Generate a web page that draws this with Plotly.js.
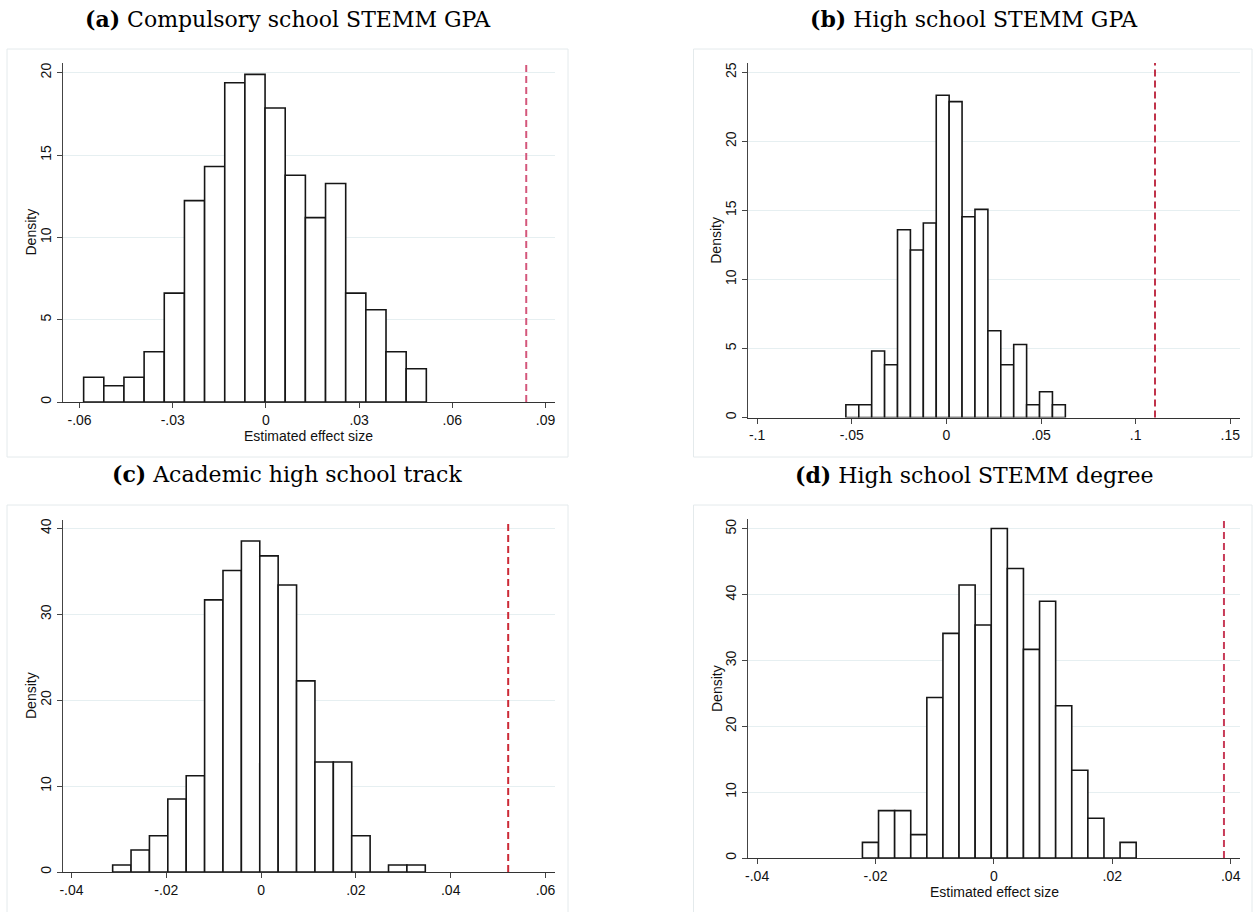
<!DOCTYPE html>
<html>
<head>
<meta charset="utf-8">
<script src="https://cdn.plot.ly/plotly-3.0.1.min.js"></script>
<style>html,body{margin:0;padding:0;background:#fff;}#chart{width:1253px;height:912px;}</style>
</head>
<body>
<div id="chart"></div>
<script>
// ---------- data ----------
const panelTitles = ["<b>(a)</b> Compulsory school STEMM GPA", "<b>(b)</b> High school STEMM GPA",
                     "<b>(c)</b> Academic high school track", "<b>(d)</b> High school STEMM degree"];

// histogram densities (17 bins each)
const densA = [1.50, 0.99, 1.50, 3.05, 6.61, 12.23, 14.30, 19.39, 19.90, 17.86, 13.77, 11.20, 13.27, 6.61, 5.60, 3.05, 2.02];
const densB = [0.92, 0.92, 4.81, 3.82, 13.60, 12.13, 14.08, 23.33, 22.87, 14.54, 15.07, 6.28, 3.82, 5.29, 0.92, 1.86, 0.92];
const densC = [0.81, 2.56, 4.22, 8.49, 11.20, 31.67, 35.10, 38.53, 36.80, 33.40, 22.25, 12.80, 12.80, 4.22, 0, 0.81, 0.81];
const densD = [2.38, 7.20, 7.20, 3.55, 24.39, 34.13, 41.48, 35.40, 50.05, 43.97, 31.69, 39.00, 23.12, 13.34, 6.03, 0, 2.38];

// first bin centre and bin width of each histogram
const firstBinCenter = [-0.05545, -0.04969, -0.02938, -0.02085];
const binWidth       = [0.00649, 0.00682, 0.00388, 0.00272];

// estimated (true) effect, drawn as the dashed line
const trueEffect = [0.0838, 0.1102, 0.05213, 0.03886];

// tick values / labels
const xTickValsA = [-0.06, -0.03, 0, 0.03, 0.06, 0.09];
const xTickTextA = ["-.06", "-.03", "0", ".03", ".06", ".09"];
const xTickValsB = [-0.1, -0.05, 0, 0.05, 0.1, 0.15];
const xTickTextB = ["-.1", "-.05", "0", ".05", ".1", ".15"];
const xTickValsC = [-0.04, -0.02, 0, 0.02, 0.04, 0.06];
const xTickTextC = ["-.04", "-.02", "0", ".02", ".04", ".06"];
const xTickValsD = [-0.04, -0.02, 0, 0.02, 0.04];
const xTickTextD = ["-.04", "-.02", "0", ".02", ".04"];
const yTickValsA = [0, 5, 10, 15, 20];
const yTickValsB = [0, 5, 10, 15, 20, 25];
const yTickValsC = [0, 10, 20, 30, 40];
const yTickValsD = [0, 10, 20, 30, 40, 50];

const xAxisTitle = "Estimated effect size";
const yAxisTitle = "Density";

// ---------- layout geometry (pixels) ----------
const W = 1253, H = 912;
const px = v => v / W;
const py = v => 1 - v / H;

const dens = [densA, densB, densC, densD];
const xTickVals = [xTickValsA, xTickValsB, xTickValsC, xTickValsD];
const xTickText = [xTickTextA, xTickTextB, xTickTextC, xTickTextD];
const yTickVals = [yTickValsA, yTickValsB, yTickValsC, yTickValsD];

const geo = [
  {l: 62.5, r: 554.5, t: 63, b: 402, xr: [-0.0655, 0.0929], yr: [0, 20.59], box: [7, 49, 568, 457], title: [288, 19], xt: true},
  {l: 748, r: 1240, t: 63, b: 417.5, xr: [-0.1048, 0.1551], yr: [0, 25.67], box: [693.5, 49, 1252, 457], title: [974, 19], xt: false},
  {l: 62.5, r: 554.5, t: 520, b: 872, xr: [-0.0419, 0.0619], yr: [0, 40.97], box: [7, 505, 568, 920], title: [287, 474], xt: false},
  {l: 748, r: 1240, t: 519, b: 858, xr: [-0.04154, 0.04157], yr: [0, 51.5], box: [693.5, 505, 1252, 920], title: [974, 475], xt: true}
];
const lineColors = ["#d4577b", "#c0334a", "#cc2a36", "#c83c58"];

const sans = "Liberation Sans, Arial, sans-serif";
const tickFont = {family: sans, size: 14, color: "#111"};
const traces = [];
const layout = {
  width: W, height: H,
  margin: {l: 0, r: 0, t: 0, b: 0},
  paper_bgcolor: "#fff", plot_bgcolor: "#fff",
  showlegend: false, bargap: 0,
  shapes: [], annotations: []
};

geo.forEach((g, i) => {
  const n = i === 0 ? "" : String(i + 1);
  traces.push({
    type: "bar",
    x0: firstBinCenter[i], dx: binWidth[i],
    y: dens[i], width: binWidth[i],
    xaxis: "x" + n, yaxis: "y" + n,
    marker: {color: "#ffffff", line: {color: "#161616", width: 1.6}},
    hoverinfo: "skip"
  });
  layout["xaxis" + n] = {
    domain: [px(g.l), px(g.r)], range: g.xr, anchor: "y" + n,
    tickmode: "array", tickvals: xTickVals[i], ticktext: xTickText[i],
    ticks: "outside", ticklen: 5, tickwidth: 1, tickcolor: "#444",
    showline: true, linecolor: "#333", linewidth: 1,
    showgrid: false, zeroline: false, tickfont: tickFont, fixedrange: true
  };
  layout["yaxis" + n] = {
    domain: [py(g.b), py(g.t)], range: g.yr, anchor: "x" + n,
    tickmode: "array", tickvals: yTickVals[i], tickangle: -90,
    ticks: "outside", ticklen: 5, tickwidth: 1, tickcolor: "#444",
    showline: true, linecolor: "#444", linewidth: 1,
    showgrid: true, gridcolor: "#e6eff1", gridwidth: 1,
    zeroline: false, tickfont: tickFont, fixedrange: true
  };
  // graph-region frame
  layout.shapes.push({type: "rect", xref: "paper", yref: "paper",
    x0: px(g.box[0]), x1: px(g.box[2]), y0: py(g.box[3]), y1: py(g.box[1]),
    line: {color: "#e4eaec", width: 1}, fillcolor: "rgba(0,0,0,0)", layer: "below"});
  // true-effect dashed line
  layout.shapes.push({type: "line", xref: "x" + n, yref: "y" + n + " domain",
    x0: trueEffect[i], x1: trueEffect[i], y0: 0, y1: 1,
    line: {color: lineColors[i], width: 2, dash: "7px,4px"}, layer: "above"});
  // panel title
  layout.annotations.push({xref: "paper", yref: "paper", x: px(g.title[0]), y: py(g.title[1]),
    xanchor: "center", yanchor: "middle", showarrow: false, text: panelTitles[i],
    font: {family: "DejaVu Serif, serif", size: 22, color: "#000"}});
  // y axis title
  layout.annotations.push({xref: "paper", yref: "paper", x: px(g.l - 31.5), y: py((g.t + g.b) / 2),
    xanchor: "center", yanchor: "middle", showarrow: false, text: yAxisTitle, textangle: -90,
    font: {family: sans, size: 14, color: "#111"}});
  if (g.xt) {
    layout.annotations.push({xref: "paper", yref: "paper", x: px((g.l + g.r) / 2), y: py(g.b + 34),
      xanchor: "center", yanchor: "middle", showarrow: false, text: xAxisTitle,
      font: {family: sans, size: 14, color: "#111"}});
  }
});

Plotly.newPlot("chart", traces, layout, {displayModeBar: false, staticPlot: true});
</script>
</body>
</html>
